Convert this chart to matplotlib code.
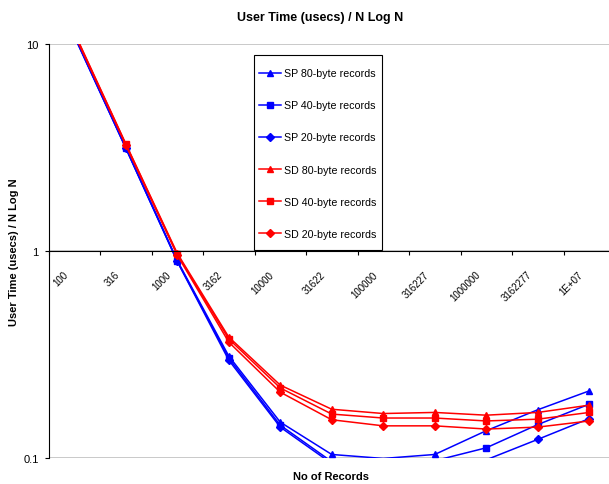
import numpy as np
import matplotlib
matplotlib.use("Agg")
import matplotlib.pyplot as plt
from matplotlib.patches import Rectangle
from matplotlib.transforms import ScaledTranslation

plt.rcParams['font.family'] = ['Liberation Sans', 'DejaVu Sans']

# record counts (category axis)
categories = ['100', '316', '1000', '3162', '10000', '31622', '100000',
              '316227', '1000000', '3162277', '1E+07']

# user time (usecs) / N log N
sp80 = [11.0, 3.17, 0.900, 0.311, 0.149, 0.104, 0.0995, 0.104, 0.1355, 0.171, 0.211]
sp40 = [11.0, 3.15, 0.893, 0.304, 0.144, 0.096, 0.090, 0.097, 0.112, 0.145, 0.182]
sp20 = [10.9, 3.14, 0.890, 0.297, 0.141, 0.094, 0.087, 0.090, 0.098, 0.123, 0.155]
sd80 = [11.4, 3.30, 0.975, 0.384, 0.225, 0.172, 0.164, 0.166, 0.161, 0.166, 0.180]
sd40 = [11.3, 3.28, 0.965, 0.376, 0.218, 0.163, 0.156, 0.156, 0.151, 0.154, 0.166]
sd20 = [11.2, 3.25, 0.955, 0.363, 0.208, 0.153, 0.143, 0.143, 0.138, 0.141, 0.151]

series = [
    ('SP 80-byte records', sp80, 'blue', '^'),
    ('SP 40-byte records', sp40, 'blue', 's'),
    ('SP 20-byte records', sp20, 'blue', 'D'),
    ('SD 80-byte records', sd80, 'red', '^'),
    ('SD 40-byte records', sd40, 'red', 's'),
    ('SD 20-byte records', sd20, 'red', 'D'),
]

W, H = 609, 485
fig = plt.figure(figsize=(W / 100, H / 100), dpi=100)
# plot area runs a bit past the right edge of the picture, like the source
ax = fig.add_axes([48.5 / W, 26 / H, 566.5 / W, 414 / H])

x = np.arange(len(categories))
for name, vals, col, mk in series:
    ms = 3.8 if mk == 'D' else 4.4
    ax.plot(x, vals, color=col, marker=mk, markersize=ms, linewidth=1.1,
            label=name, markevery=[v >= 0.1 for v in vals])

ax.set_yscale('log')
ax.set_ylim(0.1, 10)
ax.set_xlim(-0.5, len(categories) - 0.5)
ax.set_yticks([0.1, 1, 10])
ax.set_yticklabels(['0.1', '1', '10'])
ax.yaxis.set_minor_locator(plt.NullLocator())
ax.yaxis.grid(True, color='#c0c0c0', linewidth=1.2)
ax.set_axisbelow(True)
ax.tick_params(axis='y', length=3, width=0.8, pad=4, labelsize=8)

# category axis crosses at 1
ax.spines['bottom'].set_position(('data', 1))
ax.spines['top'].set_visible(False)
ax.spines['right'].set_visible(False)
ax.set_xticks(np.arange(len(categories) + 1) - 0.5)
ax.set_xticklabels([])
ax.tick_params(axis='x', which='major', length=3, width=0.8, direction='out')
ax.set_xticks(x, minor=True)
ax.set_xticklabels(categories, minor=True, rotation=45, ha='right', va='top',
                   fontsize=7)
ax.tick_params(axis='x', which='minor', length=0, pad=13)
off = ScaledTranslation(-3 / 72, 0, fig.dpi_scale_trans)
for lbl in ax.get_xticklabels(minor=True):
    lbl.set_transform(lbl.get_transform() + off)

fig.text(320 / W, 1 - 17.5 / H, 'User Time (usecs) / N Log N', ha='center',
         va='center', fontsize=9, fontweight='bold')
fig.text(331 / W, 1 - 477 / H, 'No of Records', ha='center', va='center',
         fontsize=8, fontweight='bold')
fig.text(14 / W, 1 - 252 / H, 'User Time (usecs) / N Log N', ha='center',
         va='center', rotation=90, fontsize=8, fontweight='bold')

# legend box
box = Rectangle((254 / W, 1 - 251 / H), 128 / W, 195 / H,
                transform=fig.transFigure, facecolor='white',
                edgecolor='black', linewidth=0.8, zorder=4)
fig.patches.append(box)
leg = fig.legend(loc='center', bbox_to_anchor=(318 / W, 1 - 154.5 / H),
                 frameon=False, fontsize=7.7, labelspacing=2.06,
                 handlelength=2.05, handletextpad=0.25, borderpad=0)
leg.set_zorder(6)

fig.savefig('out.png', dpi=100)
